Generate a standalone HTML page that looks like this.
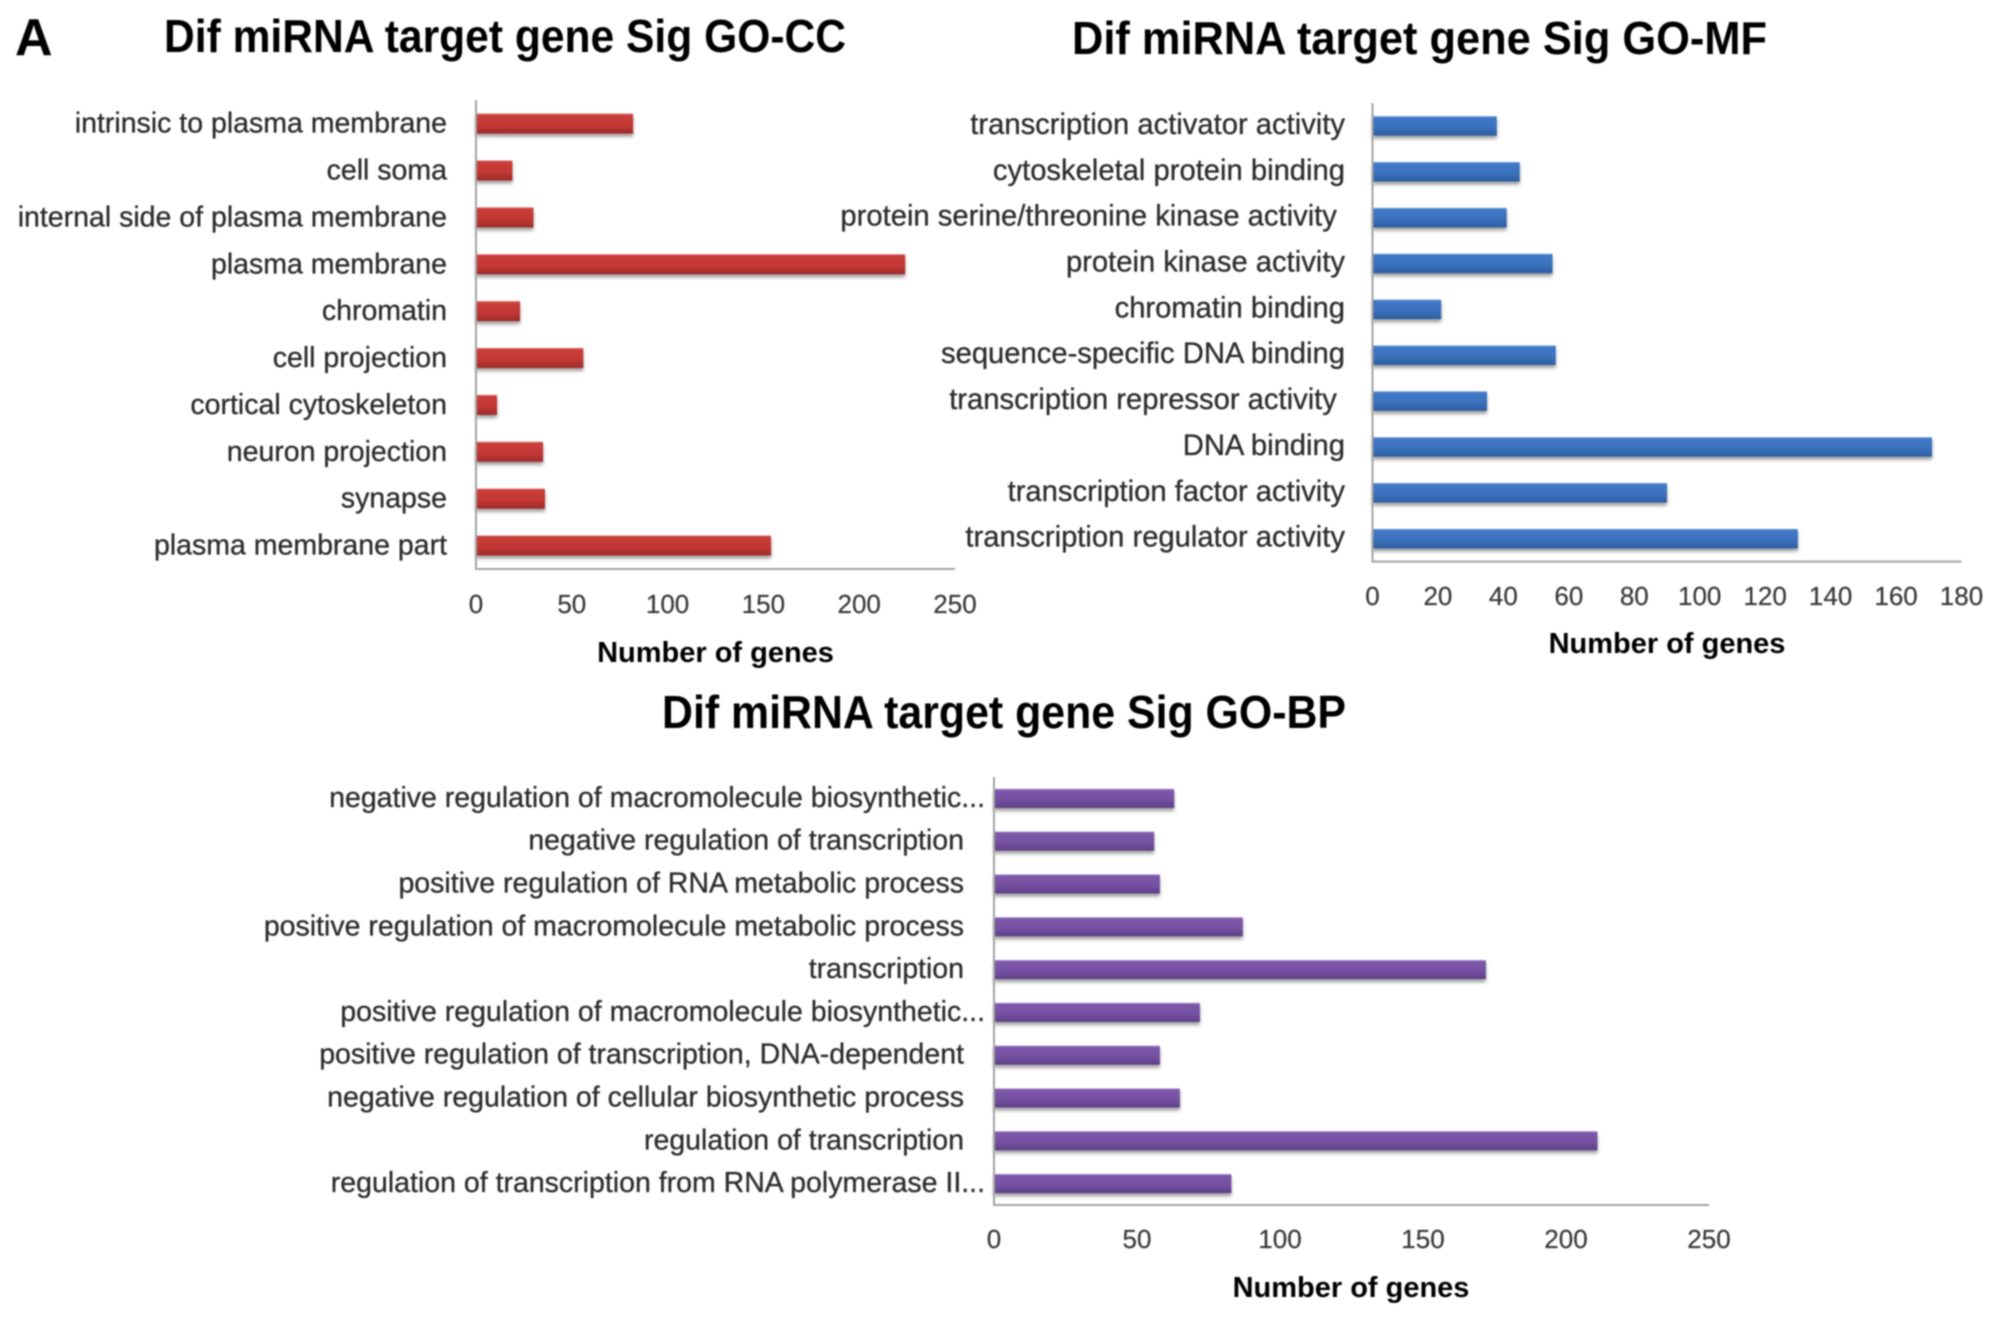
<!DOCTYPE html>
<html lang="en">
<head>
<meta charset="utf-8">
<title>Dif miRNA target gene Sig GO charts</title>
<style>
  html, body { margin: 0; padding: 0; background: #fff; }
  body { width: 2008px; height: 1320px; overflow: hidden; }
  svg { display: block; filter: blur(0.8px); font-family: "Liberation Sans", Arial, sans-serif; }
  .title { font-size: 46px; font-weight: 700; fill: #000; }
  .panel { font-size: 52px; font-weight: 700; fill: #000; }
  .axis-title { font-size: 29px; font-weight: 700; fill: #000; text-anchor: middle; }
  .cat { font-size: 28.5px; fill: #2c2c2c; stroke: #2c2c2c; stroke-width: 0.3; text-anchor: end; }
  .tick { font-size: 26px; fill: #383838; stroke: #383838; stroke-width: 0.2; text-anchor: middle; }
  .axis { stroke: #a3a3a3; stroke-width: 2; fill: none; }
</style>
</head>
<body>
<svg id="figure" xmlns="http://www.w3.org/2000/svg" width="2008" height="1320" viewBox="0 0 2008 1320">
  <defs>
    <linearGradient id="grad-red" x1="0" y1="0" x2="0" y2="1">
      <stop offset="0" stop-color="#d5635f"/><stop offset="0.1" stop-color="#c93c39"/><stop offset="0.6" stop-color="#c13734"/><stop offset="1" stop-color="#9c2b29"/>
    </linearGradient>
    <linearGradient id="grad-blue" x1="0" y1="0" x2="0" y2="1">
      <stop offset="0" stop-color="#6d97d4"/><stop offset="0.1" stop-color="#3f78c6"/><stop offset="0.6" stop-color="#3a70ba"/><stop offset="1" stop-color="#2c5c9f"/>
    </linearGradient>
    <linearGradient id="grad-purple" x1="0" y1="0" x2="0" y2="1">
      <stop offset="0" stop-color="#9a7cc0"/><stop offset="0.1" stop-color="#7c56aa"/><stop offset="0.6" stop-color="#7450a0"/><stop offset="1" stop-color="#5c3f86"/>
    </linearGradient>
    <filter id="bar-shadow" x="-5%" y="-30%" width="110%" height="170%">
      <feDropShadow dx="0" dy="3" stdDeviation="1.8" flood-color="#000" flood-opacity="0.38"/>
    </filter>
  </defs>
  <rect x="0" y="0" width="2008" height="1320" fill="#fff"/>
  <text class="panel" x="15" y="55">A</text>
  <text class="title" x="164" y="52" textLength="682" lengthAdjust="spacingAndGlyphs">Dif miRNA target gene Sig GO-CC</text>
  <text class="title" x="1072" y="54" textLength="695" lengthAdjust="spacingAndGlyphs">Dif miRNA target gene Sig GO-MF</text>
  <text class="title" x="662" y="728" textLength="684" lengthAdjust="spacingAndGlyphs">Dif miRNA target gene Sig GO-BP</text>
  <text class="axis-title" x="715.5" y="662">Number of genes</text>
  <text class="axis-title" x="1667" y="653">Number of genes</text>
  <text class="axis-title" x="1351" y="1297">Number of genes</text>
</svg>
<script>
const categoriesCC = ["intrinsic to plasma membrane", "cell soma", "internal side of plasma membrane", "plasma membrane", "chromatin", "cell projection", "cortical cytoskeleton", "neuron projection", "synapse", "plasma membrane part"];
const valuesCC = [82, 19, 30, 224, 23, 56, 11, 35, 36, 154];
const ticksCC = [0, 50, 100, 150, 200, 250];

const categoriesMF = ["transcription activator activity", "cytoskeletal protein binding", "protein serine/threonine kinase activity\u00A0", "protein kinase activity", "chromatin binding", "sequence-specific DNA binding", "transcription repressor activity\u00A0", "DNA binding", "transcription factor activity", "transcription regulator activity"];
const valuesMF = [38, 45, 41, 55, 21, 56, 35, 171, 90, 130];
const ticksMF = [0, 20, 40, 60, 80, 100, 120, 140, 160, 180];

const categoriesBP = ["negative regulation of macromolecule biosynthetic...", "negative regulation of transcription", "positive regulation of RNA metabolic process", "positive regulation of macromolecule metabolic process", "transcription", "positive regulation of macromolecule biosynthetic...", "positive regulation of transcription, DNA-dependent", "negative regulation of cellular biosynthetic process", "regulation of transcription", "regulation of transcription from RNA polymerase II..."];
const valuesBP = [63, 56, 58, 87, 172, 72, 58, 65, 211, 83];
const ticksBP = [0, 50, 100, 150, 200, 250];

const SVG_NS = "http://www.w3.org/2000/svg";
const figure = document.getElementById("figure");

function make(tag, attrs, parent) {
  const el = document.createElementNS(SVG_NS, tag);
  Object.keys(attrs).forEach(function (k) { el.setAttribute(k, attrs[k]); });
  parent.appendChild(el);
  return el;
}

function drawChart(prefix, cats, vals, ticks, layout) {
  const group = make("g", {}, figure);
  
  

  const maxTick = ticks[ticks.length - 1];
  const xScale = function (v) { return layout.x0 + (v / maxTick) * (layout.x1 - layout.x0); };
  const band = (layout.bottom - layout.top) / cats.length;
  const yScale = function (i) { return layout.top + band * (i + 0.5); };

  const bars = make("g", { filter: "url(#bar-shadow)" }, group);
  
  

  vals.forEach(function (v, i) {
    const bar = make("rect", {
      x: xScale(0), y: yScale(i) - layout.barHeight / 2,
      width: xScale(v) - xScale(0), height: layout.barHeight,
      fill: "url(#" + layout.gradient + ")"
    }, bars);
    
    
  });

  cats.forEach(function (c, i) {
    const inset = layout.fullInset && !c.endsWith("...") ? layout.fullInset : 0;
    const label = make("text", {
      class: "cat", x: layout.labelRight - inset, y: yScale(i) + layout.labelDy,
      style: "font-size:" + layout.labelSize + "px"
    }, group);
    label.textContent = c;
    
    
  });

  const yAxis = make("line", { class: "axis", x1: layout.x0, x2: layout.x0, y1: layout.top, y2: layout.bottom + 1 }, group);
  
  

  const xAxis = make("line", { class: "axis", x1: layout.x0, x2: layout.x1, y1: layout.bottom, y2: layout.bottom }, group);
  
  

  ticks.forEach(function (t) {
    const tick = make("text", { class: "tick", x: xScale(t), y: layout.tickY }, group);
    tick.textContent = t;
    
    
  });
}

drawChart("cc", categoriesCC, valuesCC, ticksCC, {
  x0: 476, x1: 955, top: 100.2, bottom: 569, barHeight: 20,
  gradient: "grad-red", labelRight: 447, labelDy: 9, labelSize: 28.5, tickY: 613
});
drawChart("mf", categoriesMF, valuesMF, ticksMF, {
  x0: 1372.5, x1: 1961.5, top: 103, bottom: 561.6, barHeight: 19.5,
  gradient: "grad-blue", labelRight: 1345, labelDy: 8, labelSize: 29.2, tickY: 605
});
drawChart("bp", categoriesBP, valuesBP, ticksBP, {
  x0: 994, x1: 1709, top: 777, bottom: 1205, barHeight: 19,
  gradient: "grad-purple", labelRight: 985, fullInset: 21, labelDy: 8.5, labelSize: 28.5, tickY: 1248
});
</script>
</body>
</html>
